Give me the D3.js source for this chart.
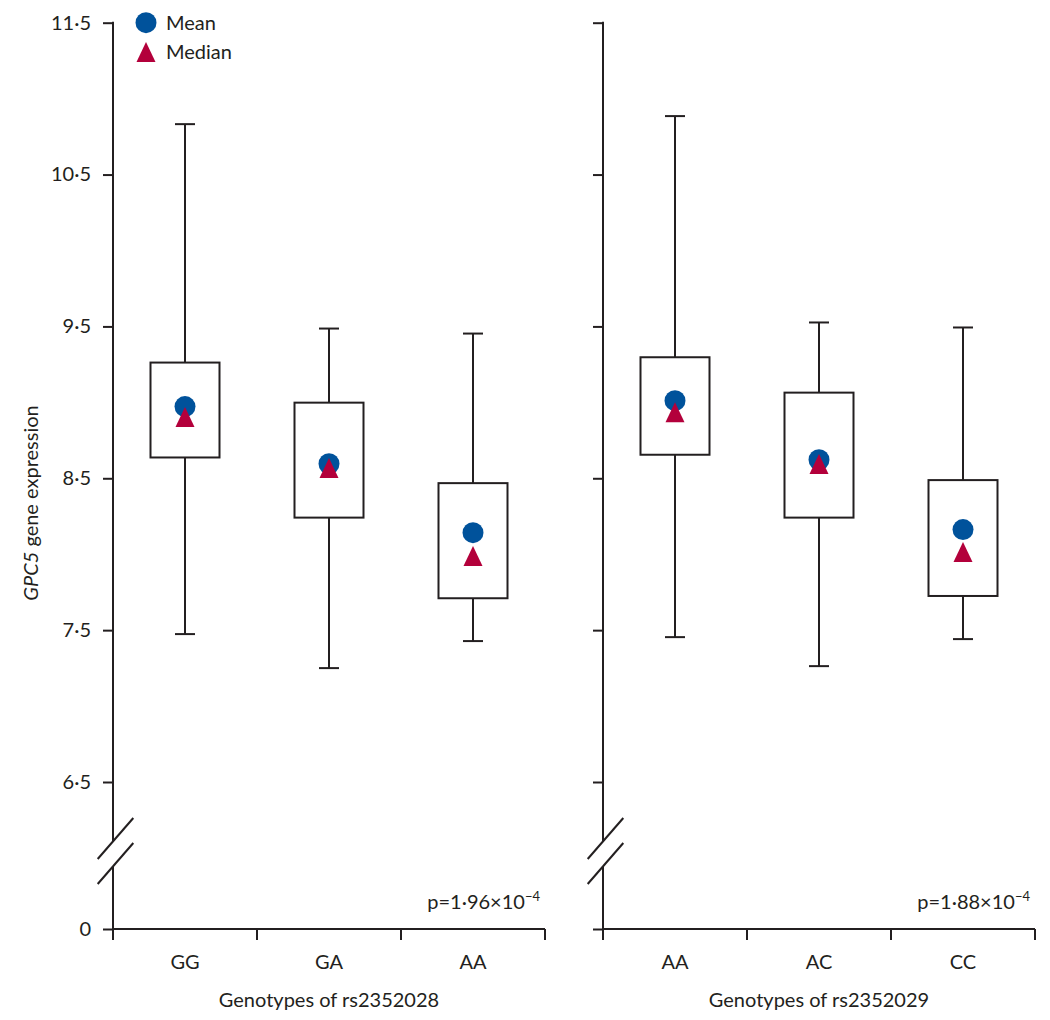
<!DOCTYPE html>
<html>
<head>
<meta charset="utf-8">
<script src="https://cdn.jsdelivr.net/npm/d3@7"></script>
<style>
  body { margin: 0; background: #fff; }
  svg text { font-family: Lato, "Open Sans", sans-serif; fill: #231f20; }
</style>
</head>
<body>
<div id="chart"></div>
<script>
// values
var yTickValues = [0, 6.5, 7.5, 8.5, 9.5, 10.5, 11.5];

var genotypesLeft = ["GG", "GA", "AA"];
var whiskerLowLeft = [7.474, 7.250, 7.428];
var q1Left = [8.637, 8.241, 7.710];
var medianLeft = [8.904, 8.567, 7.989];
var meanLeft = [8.972, 8.596, 8.142];
var q3Left = [9.262, 8.998, 8.468];
var whiskerHighLeft = [10.832, 9.486, 9.453];

var genotypesRight = ["AA", "AC", "CC"];
var whiskerLowRight = [7.454, 7.263, 7.441];
var q1Right = [8.655, 8.241, 7.725];
var medianRight = [8.935, 8.594, 8.015];
var meanRight = [9.011, 8.622, 8.162];
var q3Right = [9.297, 9.064, 8.488];
var whiskerHighRight = [10.885, 9.526, 9.493];

var snpLabels = ["Genotypes of rs2352028", "Genotypes of rs2352029"];
var pMantissa = ["1·96", "1·88"];
var pExponent = ["−4", "−4"];

var W = 1050, H = 1020;
var ink = "#231f20", blue = "#00529b", red = "#b3003b";
var fs = 20;

var svg = d3.select("#chart").append("svg")
  .attr("width", W).attr("height", H);

// broken y scale: 0 sits below the break
var y = d3.scaleLinear()
  .domain([0, 6.5, 11.5])
  .range([929, 782, 22.7]);
var breakTop = 841.4, breakBottom = 866.4;

function fmt(d) { return d === 0 ? "0" : String(d).replace(".", "·"); }

var panels = [
  { x0: 113, x1: 545, cats: genotypesLeft, lo: whiskerLowLeft, q1: q1Left, med: medianLeft,
    mean: meanLeft, q3: q3Left, hi: whiskerHighLeft, label: snpLabels[0], p: 0, ticks: true },
  { x0: 603, x1: 1035, cats: genotypesRight, lo: whiskerLowRight, q1: q1Right, med: medianRight,
    mean: meanRight, q3: q3Right, hi: whiskerHighRight, label: snpLabels[1], p: 1, ticks: false }
];

panels.forEach(function(p) {
  var g = svg.append("g");
  var x = d3.scaleBand().domain(p.cats).range([p.x0, p.x1]).paddingInner(0).paddingOuter(0);

  // y axis (ticks only, domain drawn by hand for the break)
  var yAxis = d3.axisLeft(y).tickValues(yTickValues).tickSize(10).tickPadding(12)
    .tickFormat(p.ticks ? fmt : "");
  var ya = g.append("g").attr("transform", "translate(" + p.x0 + ",0)").call(yAxis);
  ya.select(".domain").remove();
  ya.selectAll(".tick line").attr("stroke", ink).attr("stroke-width", 2);
  ya.selectAll(".tick text").attr("font-size", fs).attr("font-family", "Lato, sans-serif").attr("fill", ink);

  var axisLines = [
    [p.x0, y(11.5) - 1, p.x0, breakTop],
    [p.x0, breakBottom, p.x0, y(0) + 11],
    [p.x0 - 15.3, breakTop + 17.6, p.x0 + 20.3, breakTop - 23.4],
    [p.x0 - 15.3, breakBottom + 17.6, p.x0 + 20.3, breakBottom - 23.4],
    [p.x0, y(0), p.x1, y(0)]
  ];
  g.selectAll("line.ax").data(axisLines).enter().append("line")
    .attr("class", "ax")
    .attr("x1", function(d) { return d[0]; }).attr("y1", function(d) { return d[1]; })
    .attr("x2", function(d) { return d[2]; }).attr("y2", function(d) { return d[3]; })
    .attr("stroke", ink).attr("stroke-width", 2);

  // x boundary ticks
  var bounds = p.cats.slice(1).map(function(c) { return x(c); }).concat([p.x1]);
  g.selectAll("line.xt").data(bounds).enter().append("line")
    .attr("class", "xt")
    .attr("x1", function(d) { return d; }).attr("x2", function(d) { return d; })
    .attr("y1", y(0)).attr("y2", y(0) + 11)
    .attr("stroke", ink).attr("stroke-width", 2);

  // x category labels
  var xAxis = d3.axisBottom(x).tickSize(0).tickPadding(26);
  var xa = g.append("g").attr("transform", "translate(0," + y(0) + ")").call(xAxis);
  xa.select(".domain").remove();
  xa.selectAll(".tick text").attr("font-size", fs).attr("font-family", "Lato, sans-serif").attr("fill", ink);

  g.append("text")
    .attr("x", (p.x0 + p.x1) / 2).attr("y", 1007)
    .attr("text-anchor", "middle").attr("font-size", fs)
    .text(p.label);

  // p value
  var pt = g.append("text")
    .attr("x", p.x1 - 5).attr("y", 909)
    .attr("text-anchor", "end").attr("font-size", fs);
  pt.append("tspan").text("p=" + pMantissa[p.p] + "×10");
  pt.append("tspan").attr("font-size", 13).attr("dy", -8).text(pExponent[p.p]);

  // boxes
  var idx = d3.range(p.cats.length);
  var bw = 69, cap = 20;
  var boxes = g.selectAll("g.box").data(idx).enter().append("g").attr("class", "box")
    .attr("transform", function(i) { return "translate(" + (x(p.cats[i]) + x.bandwidth() / 2) + ",0)"; });

  boxes.append("line")
    .attr("x1", 0).attr("x2", 0)
    .attr("y1", function(i) { return y(p.hi[i]); })
    .attr("y2", function(i) { return y(p.lo[i]); })
    .attr("stroke", ink).attr("stroke-width", 2);
  boxes.append("line")
    .attr("x1", -cap / 2).attr("x2", cap / 2)
    .attr("y1", function(i) { return y(p.hi[i]); })
    .attr("y2", function(i) { return y(p.hi[i]); })
    .attr("stroke", ink).attr("stroke-width", 2);
  boxes.append("line")
    .attr("x1", -cap / 2).attr("x2", cap / 2)
    .attr("y1", function(i) { return y(p.lo[i]); })
    .attr("y2", function(i) { return y(p.lo[i]); })
    .attr("stroke", ink).attr("stroke-width", 2);
  boxes.append("rect")
    .attr("x", -bw / 2).attr("width", bw)
    .attr("y", function(i) { return y(p.q3[i]); })
    .attr("height", function(i) { return y(p.q1[i]) - y(p.q3[i]); })
    .attr("fill", "#fff").attr("stroke", ink).attr("stroke-width", 2);
  boxes.append("circle")
    .attr("cx", 0).attr("cy", function(i) { return y(p.mean[i]); })
    .attr("r", 10.5).attr("fill", blue);
  boxes.append("path")
    .attr("d", function(i) { return tri(0, y(p.med[i])); })
    .attr("fill", red);
});

function tri(cx, cy) {
  return "M" + cx + "," + (cy - 10) + "L" + (cx - 9.5) + "," + (cy + 10) + "L" + (cx + 9.5) + "," + (cy + 10) + "Z";
}

// y axis title
var yt = svg.append("text")
  .attr("transform", "translate(38,503) rotate(-90)")
  .attr("text-anchor", "middle").attr("font-size", fs);
yt.append("tspan").attr("font-style", "italic").text("GPC5");
yt.append("tspan").text(" gene expression");

// legend
var legend = svg.append("g");
legend.append("circle").attr("cx", 146).attr("cy", 22.7).attr("r", 10.5).attr("fill", blue);
legend.append("path").attr("d", tri(146, 52)).attr("fill", red);
legend.append("text").attr("x", 166).attr("y", 22.7).attr("dy", "0.35em").attr("font-size", fs).text("Mean");
legend.append("text").attr("x", 166).attr("y", 52).attr("dy", "0.35em").attr("font-size", fs).text("Median");
</script>
</body>
</html>
